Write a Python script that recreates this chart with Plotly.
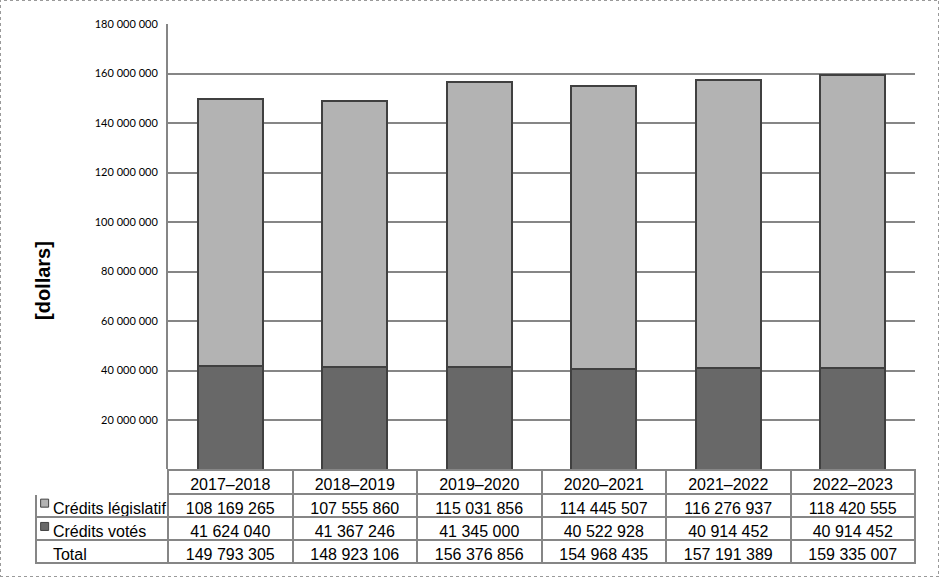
import plotly.graph_objects as go

W, H = 939, 577

years = ["2017–2018", "2018–2019", "2019–2020", "2020–2021", "2021–2022", "2022–2023"]
legislatif = [108169265, 107555860, 115031856, 114445507, 116276937, 118420555]
votes = [41624040, 41367246, 41345000, 40522928, 40914452, 40914452]
totals = [149793305, 148923106, 156376856, 154968435, 157191389, 159335007]
series_names = ["Crédits législatif", "Crédits votés", "Total"]
ytickvals = [20000000, 40000000, 60000000, 80000000, 100000000, 120000000, 140000000, 160000000, 180000000]
y_title = "[dollars]"

LIGHT = "#b3b3b3"
DARK = "#686868"
EDGE = "#404040"
GRID = "#868686"
NB = "\u00a0"


def fmt(v):
    return f"{v:,}".replace(",", NB)


# plot area & table geometry in pixels
px_left, px_right = 168, 915
px_top, px_bottom = 24, 469.5
tbl_left = 36
hdr_h, row_h = 24, 23.3

fig = go.Figure()
fig.add_trace(go.Bar(x=years, y=votes, name=series_names[1], marker=dict(color=DARK, line=dict(color=EDGE, width=2)), width=0.52))
fig.add_trace(go.Bar(x=years, y=legislatif, name=series_names[0], marker=dict(color=LIGHT, line=dict(color=EDGE, width=2)), width=0.52))

first_col = [NB * 2 + s.replace(" ", NB) for s in series_names]
cols = [first_col] + [[fmt(legislatif[i]), fmt(votes[i]), fmt(totals[i])] for i in range(len(years))]

# legend swatches in the table's first column (drawn under a transparent first column)
rows_top = px_bottom + hdr_h - 2
rows_bot = rows_top + 3 * row_h
fig.add_trace(go.Scatter(
    x=[0, 0], y=series_names[:2], mode="markers", xaxis="x2", yaxis="y2",
    marker=dict(symbol="square", size=8, color=[LIGHT, DARK], line=dict(color=EDGE, width=1)),
    hoverinfo="skip", showlegend=False,
))

fig.add_trace(go.Table(
    domain=dict(x=[tbl_left / W, px_right / W], y=[0, 1 - px_bottom / H]),
    columnwidth=[px_left - tbl_left] + [(px_right - px_left) / 6] * 6,
    header=dict(
        values=[""] + years,
        height=hdr_h,
        align="center",
        fill_color="white",
        line=dict(color=["white"] + [GRID] * 6, width=2),
        font=dict(family="Liberation Sans, Arial", size=16, color="black"),
    ),
    cells=dict(
        values=cols,
        height=row_h,
        align=["left"] + ["center"] * 6,
        fill_color=["rgba(0,0,0,0)"] + ["white"] * 6,
        line=dict(color=GRID, width=2),
        font=dict(family="Liberation Sans, Arial", size=16, color="black"),
    ),
))

fig.update_layout(
    template="none",
    width=W, height=H,
    margin=dict(l=0, r=0, t=0, b=0, pad=0),
    paper_bgcolor="white", plot_bgcolor="white",
    barmode="stack",
    showlegend=False,
    separators=". ",
    xaxis=dict(domain=[px_left / W, px_right / W], showticklabels=False, showgrid=False, zeroline=False,
               showline=False, automargin=False, ticks=""),
    yaxis=dict(
        domain=[1 - px_bottom / H, 1 - px_top / H],
        range=[0, 180000000],
        tickvals=ytickvals,
        tickformat=",d",
        tickfont=dict(family="Lato, Liberation Sans", size=11, color="black"),
        ticks="", ticklabelstandoff=6,
        showgrid=True, gridcolor=GRID, gridwidth=2,
        showline=True, linecolor=GRID, linewidth=2,
        zeroline=False, automargin=False,
    ),
    xaxis2=dict(domain=[tbl_left / W, px_left / W], range=[-0.7, 10], visible=False, fixedrange=True, automargin=False),
    yaxis2=dict(domain=[1 - rows_bot / H, 1 - rows_top / H], type="category", categoryarray=series_names,
                categoryorder="array", range=[2.5, -0.5], visible=False, fixedrange=True, automargin=False),
    annotations=[dict(text=f"<b>{y_title}</b>", xref="paper", yref="paper", x=43 / W, y=1 - 281 / H,
                      textangle=-90, showarrow=False, xanchor="center", yanchor="middle",
                      font=dict(family="Liberation Sans, Arial", size=20, color="black"))],
    shapes=[dict(type="rect", xref="paper", yref="paper", x0=0, y0=0, x1=1, y1=1,
                 line=dict(color="#9a9a9a", width=2, dash="dot"), layer="above")],
)

post = ("document.body.style.margin='0';document.body.style.overflow='hidden';"
        "var gd=document.getElementById('{plot_id}');gd.style.position='absolute';"
        "gd.style.left='0px';gd.style.top='0px';")
fig.write_html("out.html", post_script=post, config={"displayModeBar": False})
